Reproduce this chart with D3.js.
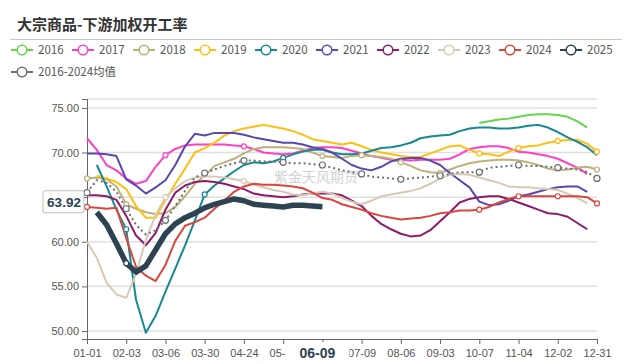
<!DOCTYPE html>
<html>
<head>
<meta charset="utf-8">
<script src="https://cdn.jsdelivr.net/npm/d3@7"></script>
<style>
  body { margin: 0; background: #fff; }
  svg text { font-family: "Liberation Sans", "Noto Sans CJK SC", sans-serif; }
</style>
</head>
<body>
<div id="chart"></div>
<script>
// week labels (category axis)
const weeks = ["01-01","01-08","01-15","01-22","02-03","02-10","02-17","02-24","03-06","03-12",
  "03-18","03-24","03-30","04-06","04-12","04-18","04-24","04-30","05-07","05-14",
  "05-20","05-25","05-30","06-04","06-09","06-16","06-23","07-02","07-09","07-16",
  "07-23","07-30","08-06","08-13","08-20","08-27","09-03","09-10","09-17","09-24",
  "10-07","10-14","10-21","10-28","11-04","11-11","11-18","11-25","12-02","12-09",
  "12-16","12-23","12-31"];

const yTicks = [50, 55, 60, 65, 70, 75];

const s2016 = [null,null,null,null,null,null,null,null,null,null,
  null,null,null,null,null,null,null,null,null,null,
  null,null,null,null,null,null,null,null,null,null,
  null,null,null,null,null,null,null,null,null,null,
  73.3,73.5,73.7,73.8,74.0,74.2,74.3,74.3,74.2,74.0,73.5,72.8,null];
const s2017 = [71.6,70.3,68.6,68.0,67.1,66.5,66.8,68.4,69.7,70.4,
  70.8,70.9,70.9,70.9,70.9,70.8,70.7,70.4,70.0,69.9,
  69.8,69.9,70.2,70.5,70.6,70.6,70.5,70.2,69.9,69.6,
  69.4,69.2,69.2,69.1,69.2,69.2,69.2,69.3,69.8,70.4,
  70.6,70.7,70.7,70.5,70.1,70.0,69.8,69.6,69.3,68.8,68.3,67.6,null];
const s2018 = [67.1,67.2,67.0,66.2,64.2,63.7,63.3,63.1,63.2,63.9,
  65.1,66.5,67.4,68.5,68.9,69.3,69.9,70.4,70.6,70.6,
  70.6,70.5,70.4,70.0,69.6,69.5,69.4,69.6,69.7,69.6,
  69.5,69.3,68.9,68.5,68.0,67.8,67.7,68.1,68.5,68.8,
  69.0,69.1,69.2,69.2,69.1,68.9,68.6,68.2,68.0,68.1,68.3,68.4,68.1];
const s2019 = [null,67.4,67.1,66.7,65.9,64.0,62.7,62.7,64.7,66.5,
  68.2,70.0,70.5,71.1,71.9,72.4,72.7,72.9,73.1,72.9,
  72.7,72.4,72.0,71.5,71.3,71.1,70.9,71.1,70.7,70.3,
  70.0,69.8,69.6,69.5,69.5,69.9,70.3,70.7,70.8,70.3,
  69.9,69.8,69.6,70.1,70.5,70.7,70.8,71.1,71.3,71.4,71.4,71.0,70.1];
const s2020 = [null,68.6,66.2,63.6,61.4,53.5,49.8,51.7,54.4,57.0,
  59.6,62.4,65.3,66.3,67.1,67.9,68.6,68.9,68.8,69.0,
  69.4,69.8,70.1,70.3,70.3,70.0,69.8,69.8,69.9,70.2,
  70.5,70.6,70.8,71.1,71.6,71.8,71.9,72.0,72.4,72.7,
  72.8,72.8,72.7,72.7,72.8,73.0,73.1,72.8,72.3,71.7,71.2,70.6,69.7];
const s2021 = [69.9,69.9,69.8,69.6,67.0,66.3,65.4,66.1,66.9,68.6,
  70.7,72.1,71.9,72.2,72.2,72.2,72.0,71.7,71.5,71.3,
  71.1,71.1,70.9,70.6,70.4,70.0,69.3,68.6,68.2,68.0,
  68.4,69.0,69.3,69.4,69.4,69.1,68.6,67.7,66.9,66.1,
  64.5,64.1,64.2,64.6,65.1,65.3,65.6,65.9,66.1,66.2,66.2,65.6,null];
const s2022 = [65.2,65.2,65.1,64.7,62.9,60.7,59.6,61.0,63.6,65.5,
  66.3,66.7,66.8,66.7,66.5,66.2,65.9,65.4,65.2,65.1,
  65.0,65.1,65.3,65.4,65.4,65.4,65.2,64.6,64.0,62.9,
  62.0,61.4,60.9,60.6,60.7,61.3,62.3,63.3,64.4,64.8,
  65.0,65.1,65.1,64.8,64.4,64.0,63.6,63.2,63.1,62.8,62.1,61.4,null];
const s2023 = [60.0,58.2,55.4,54.1,53.7,56.4,60.2,63.0,65.0,66.0,
  66.8,67.2,67.3,67.3,67.2,67.0,66.8,66.4,66.1,65.8,
  65.6,65.3,65.2,65.4,65.6,65.4,64.9,64.5,64.2,64.6,
  65.1,65.3,65.5,65.7,66.0,66.5,67.1,67.5,67.6,67.5,
  67.2,66.9,66.6,66.2,66.1,66.1,66.0,65.9,65.8,65.4,64.9,64.3,null];
const s2024 = [63.9,63.8,63.7,63.8,60.4,57.2,56.2,55.6,57.4,60.1,
  61.8,62.2,62.7,63.7,64.6,65.6,66.2,66.5,66.4,66.4,
  66.3,66.2,66.0,65.5,64.9,64.7,64.2,63.9,63.6,63.2,
  62.9,62.7,62.5,62.6,62.7,62.9,63.2,63.3,63.5,63.5,
  63.6,63.9,64.4,64.8,65.1,65.1,65.1,65.1,65.1,65.1,65.1,65.0,64.3];
const s2025 = [null,63.3,61.9,59.8,57.6,56.6,57.3,59.1,60.9,62.0,
  62.7,63.2,63.8,64.2,64.5,64.8,64.6,64.2,64.1,64.0,
  63.9,64.1,64.1,64.0,63.92,null,null,null,null,null,
  null,null,null,null,null,null,null,null,null,null,
  null,null,null,null,null,null,null,null,null,null,null,null,null];
const avg = [65.5,66.9,66.6,65.6,63.7,61.9,60.8,61.3,62.4,64.0,
  65.7,67.2,67.7,68.1,68.5,68.8,69.1,69.1,69.0,69.0,
  68.9,68.8,68.8,68.7,68.6,68.3,68.0,67.8,67.6,67.3,
  67.2,67.1,67.0,67.1,67.2,67.3,67.4,67.6,67.8,67.8,
  67.8,68.3,68.4,68.5,68.6,68.5,68.5,68.4,68.3,68.2,68.1,67.8,67.1];

const names = ["2016","2017","2018","2019","2020","2021","2022","2023","2024","2025","2016-2024均值"];
const colors = ["#63d64b","#ff3fc4","#bfb07a","#ffbf12","#168990","#5848b0","#8c1b6b","#d7c9b4","#d9463d","#2e4352","#707070"];
const values = [s2016,s2017,s2018,s2019,s2020,s2021,s2022,s2023,s2024,s2025,avg];
// points where the source shows a small hollow marker
const markerIdx = [[],[8,16],[0,4,24,28,32,36,52],[40,44,48,52],[4,12,20],[],[],[8,16],[0,40,44,48,52],[4],
  d3.range(0, 53, 4)];

const width = 631, height = 364;
const margin = { top: 99, right: 34, bottom: 25, left: 87 };

const svg = d3.select("#chart").append("svg")
  .attr("width", width).attr("height", height);

const x = d3.scalePoint()
  .domain(d3.range(weeks.length))
  .range([margin.left, width - margin.right]);

const y = d3.scaleLinear()
  .domain([49.1, 76])
  .range([height - margin.bottom, margin.top]);

// latest 2025 week, used by the axis pointer labels
const last = s2025.findIndex((v, i) => v != null && s2025[i + 1] == null);

// title + separator
svg.append("text").attr("x", 17).attr("y", 30)
  .attr("font-size", 15).attr("font-weight", "bold").attr("fill", "#333")
  .style("font-family", "'Noto Sans CJK SC', sans-serif")
  .text("大宗商品-下游加权开工率");
svg.append("line").attr("x1", 10).attr("x2", 622).attr("y1", 39.5).attr("y2", 39.5)
  .attr("stroke", "#c8c8c8");

// legend
const legend = svg.append("g");
names.forEach((n, i) => {
  const lx = i < 10 ? 11 + i * 61 : 11;
  const ly = i < 10 ? 50 : 72;
  const g = legend.append("g").attr("transform", `translate(${lx},${ly})`);
  g.append("line").attr("x1", 0).attr("x2", 22).attr("stroke", colors[i]).attr("stroke-width", 2);
  g.append("circle").attr("cx", 11).attr("r", 4.8).attr("fill", "#fff")
    .attr("stroke", colors[i]).attr("stroke-width", 1.5);
  g.append("text").attr("x", 27).attr("y", 4).attr("font-size", 11.5).attr("fill", "#555")
    .style("font-family", "'Noto Sans CJK SC', sans-serif")
    .text(n);
});

// grid
svg.append("g").selectAll("line")
  .data(yTicks.concat([76]))
  .join("line")
    .attr("x1", margin.left).attr("x2", width - margin.right)
    .attr("y1", d => y(d)).attr("y2", d => y(d))
    .attr("stroke", "#e0e0e0").attr("stroke-width", 1.5);

// watermark
svg.append("text").attr("x", 316).attr("y", 182).attr("text-anchor", "middle")
  .attr("font-size", 14).attr("fill", "#c8c8c8").attr("opacity", 0.8)
  .style("font-family", "'Noto Sans CJK SC', sans-serif")
  .text("紫金天风期货");

// axes
const yAxis = svg.append("g").attr("transform", `translate(${margin.left},0)`)
  .call(d3.axisLeft(y).tickValues(yTicks).tickFormat(d3.format(".2f")).tickSize(5).tickPadding(3));
yAxis.select(".domain").attr("stroke", "#666");
yAxis.selectAll(".tick line").attr("stroke", "#666");
yAxis.selectAll("text").attr("font-size", 11).attr("fill", "#555");

// the label under the pointer is covered by the pointer label itself
const xAxis = svg.append("g").attr("transform", `translate(0,${height - margin.bottom})`)
  .call(d3.axisBottom(x).tickValues(d3.range(0, 53, 4))
    .tickFormat(i => i === last ? "" : weeks[i]).tickSize(5).tickPadding(5));
xAxis.select(".domain").attr("stroke", "#666");
xAxis.selectAll(".tick line").attr("stroke", "#666");
xAxis.selectAll("text").attr("font-size", 11).attr("fill", "#555");

// lines
const line = d3.line()
  .defined(d => d != null)
  .x((d, i) => x(i))
  .y(d => y(d));

const plot = svg.append("g");
values.forEach((vals, k) => {
  const isAvg = k === 10, isNow = k === 9;
  plot.append("path")
    .datum(vals)
    .attr("fill", "none")
    .attr("stroke", colors[k])
    .attr("stroke-width", isNow ? 5.5 : 2)
    .attr("stroke-dasharray", isAvg ? "2,3" : null)
    .attr("stroke-linejoin", "round")
    .attr("d", line);
});
values.forEach((vals, k) => {
  plot.append("g").selectAll("circle")
    .data(markerIdx[k].filter(i => vals[i] != null))
    .join("circle")
      .attr("cx", i => x(i)).attr("cy", i => y(vals[i]))
      .attr("r", k === 10 ? 3 : 2.5)
      .attr("fill", "#fff")
      .attr("stroke", colors[k]).attr("stroke-width", 1.2);
});

// axis pointer labels
const px = x(last) - 5;
const xl = svg.append("g").attr("transform", `translate(${px},${height - margin.bottom + 13})`);
xl.append("rect").attr("x", -32).attr("y", -10).attr("width", 64).attr("height", 22).attr("fill", "#fff");
xl.append("text").attr("text-anchor", "middle").attr("y", 6).attr("font-size", 14)
  .attr("font-weight", "bold").attr("fill", "#2e4352").text(weeks[last]);

const py = y(s2025[last]) - 5;
const yl = svg.append("g").attr("transform", `translate(${margin.left - 2},${py})`);
yl.append("rect").attr("x", -42).attr("y", -11).attr("width", 41).attr("height", 22).attr("rx", 2)
  .attr("fill", "#fff").attr("stroke", "#bbb");
yl.append("text").attr("x", -21).attr("y", 5).attr("text-anchor", "middle").attr("font-size", 13.5)
  .attr("font-weight", "bold").attr("fill", "#2e4352").text(s2025[last].toFixed(2));
</script>
</body>
</html>
